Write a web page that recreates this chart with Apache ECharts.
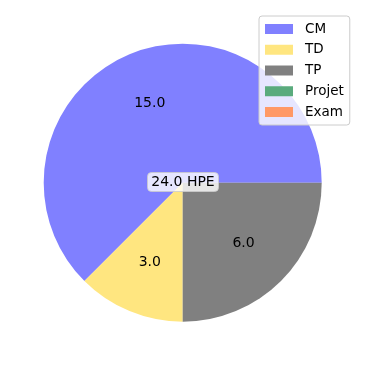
<!DOCTYPE html>
<html><head><meta charset="utf-8">
<script src="https://cdn.jsdelivr.net/npm/echarts@6/dist/echarts.min.js"></script>
<style>html,body{margin:0;padding:0;background:#fff}#c{width:366px;height:366px}</style>
</head><body><div id="c"></div>
<script>
var categories = ['CM', 'TD', 'TP', 'Projet', 'Exam'];
var values = [15, 3, 6, 0, 0];
var colors = ['#8080ff', '#ffe680', '#808080', '#5aab7d', '#ff9966'];
var total = values.reduce(function (a, b) { return a + b; }, 0);
var centerLabel = total.toFixed(1) + ' HPE';

var data = categories.map(function (c, i) {
  return { name: c, value: values[i], itemStyle: { color: colors[i] } };
});
var labelData = categories.map(function (c, i) {
  return { name: c, value: values[i] };
});

var chart = echarts.init(document.getElementById('c'), null, { renderer: 'canvas' });
chart.setOption({
  animation: false,
  backgroundColor: '#ffffff',
  legend: {
    data: categories,
    orient: 'vertical',
    left: 259,
    top: 16,
    padding: [5, 6, 5, 6],
    icon: 'rect',
    itemWidth: 28,
    itemHeight: 10,
    itemGap: 4.75,
    backgroundColor: 'rgba(255,255,255,0.8)',
    borderColor: '#cccccc',
    borderWidth: 1,
    borderRadius: 3,
    selectedMode: false,
    textStyle: { fontFamily: 'DejaVu Sans', fontSize: 13.5, color: '#000', lineHeight: 16, padding: [0, 0, 0, 7] }
  },
  title: {
    text: centerLabel,
    left: 'center',
    top: 172,
    padding: [3, 4, 3, 4],
    backgroundColor: 'rgba(255,255,255,0.8)',
    borderColor: 'rgba(204,204,204,0.8)',
    borderWidth: 1,
    borderRadius: 4,
    textStyle: { fontFamily: 'DejaVu Sans', fontSize: 14, fontWeight: 'normal', color: '#000', lineHeight: 14 }
  },
  series: [
    {
      type: 'pie',
      center: [182.7, 182.7],
      radius: [0, 139],
      startAngle: 0,
      clockwise: false,
      minAngle: 0,
      avoidLabelOverlap: false,
      silent: true,
      label: { show: false },
      labelLine: { show: false },
      data: data,
      z: 2
    },
    {
      type: 'pie',
      center: [182.7, 182.7],
      radius: [27, 139],
      startAngle: 0,
      clockwise: false,
      avoidLabelOverlap: false,
      silent: true,
      legendHoverLink: false,
      itemStyle: { color: 'rgba(0,0,0,0)' },
      label: {
        show: true,
        position: 'inside',
        fontFamily: 'DejaVu Sans',
        fontSize: 14,
        color: '#000',
        formatter: function (p) { return p.value > 0 ? p.value.toFixed(1) : ''; }
      },
      labelLine: { show: false },
      data: labelData,
      z: 3
    }
  ]
});
</script></body></html>
